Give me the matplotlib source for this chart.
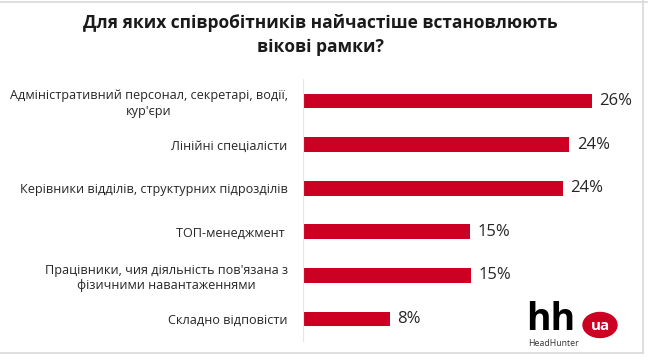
import matplotlib.pyplot as plt
from matplotlib.patches import Ellipse

plt.rcParams['font.family'] = ['Open Sans', 'DejaVu Sans']

# data
categories = [
    "Адміністративний персонал, секретарі, водії,\nкур'єри",
    "Лінійні спеціалісти",
    "Керівники відділів, структурних підрозділів",
    "ТОП-менеджмент ",
    "Працівники, чия діяльність пов'язана з\nфізичними навантаженнями",
    "Складно відповісти",
]
values = [26.0, 24.0, 23.4, 15.0, 15.1, 7.8]
value_labels = ["26%", "24%", "24%", "15%", "15%", "8%"]

bar_color = '#cc0022'
text_color = '#262626'

fig = plt.figure(figsize=(6.48, 3.57), dpi=100)
ax = fig.add_axes([303 / 648, 1 - 340.8 / 357, 333 / 648, 261.6 / 357])

pos = list(range(len(categories)))
ax.barh(pos, values, height=0.34, color=bar_color)
ax.set_xlim(0, 30)
ax.set_ylim(5.5, -0.5)

for p, v, lab in zip(pos, values, value_labels):
    ax.text(v + 0.7, p, lab, va='center', ha='left', fontsize=12, color=text_color)

ax.set_yticks(pos)
ax.set_yticklabels(categories, fontsize=9.1, color=text_color, ha='right',
                   multialignment='center', linespacing=1.25)
ax.tick_params(axis='y', length=0, pad=11)
ax.set_xticks([])
for s in ['top', 'right', 'bottom']:
    ax.spines[s].set_visible(False)
ax.spines['left'].set_color('#e6e6e6')
ax.spines['left'].set_linewidth(0.8)

# title
fig.text(0.495, 1 - 35 / 357, "Для яких співробітників найчастіше встановлюють\nвікові рамки?",
         ha='center', va='center', fontsize=12.5, fontweight='bold', color='#1a1a1a',
         linespacing=1.45)

# frame lines
fig.add_artist(plt.Line2D([0, 1], [1 - 2 / 357, 1 - 2 / 357], color='#d9d9d9', lw=1.2))
fig.add_artist(plt.Line2D([0, 643 / 648], [1 - 353 / 357, 1 - 353 / 357], color='#d9d9d9', lw=1.2))
fig.add_artist(plt.Line2D([643 / 648, 643 / 648], [1 - 353 / 357, 1], color='#d9d9d9', lw=1.2))

# logo
fig.text(526 / 648, 1 - 320 / 357, "hh", ha='left', va='center', fontsize=27,
         fontweight='bold', color='black')
circ = Ellipse((600 / 648, 1 - 325 / 357), 34 / 648, 25 / 357, transform=fig.transFigure,
               color=bar_color, zorder=3)
fig.add_artist(circ)
fig.text(600 / 648, 1 - 326 / 357, "ua", ha='center', va='center', fontsize=11,
         fontweight='bold', color='white', zorder=4)
fig.text(528 / 648, 1 - 344 / 357, "HeadHunter", ha='left', va='center', fontsize=6.3,
         color='#333333')

fig.savefig('out.png', dpi=100)
